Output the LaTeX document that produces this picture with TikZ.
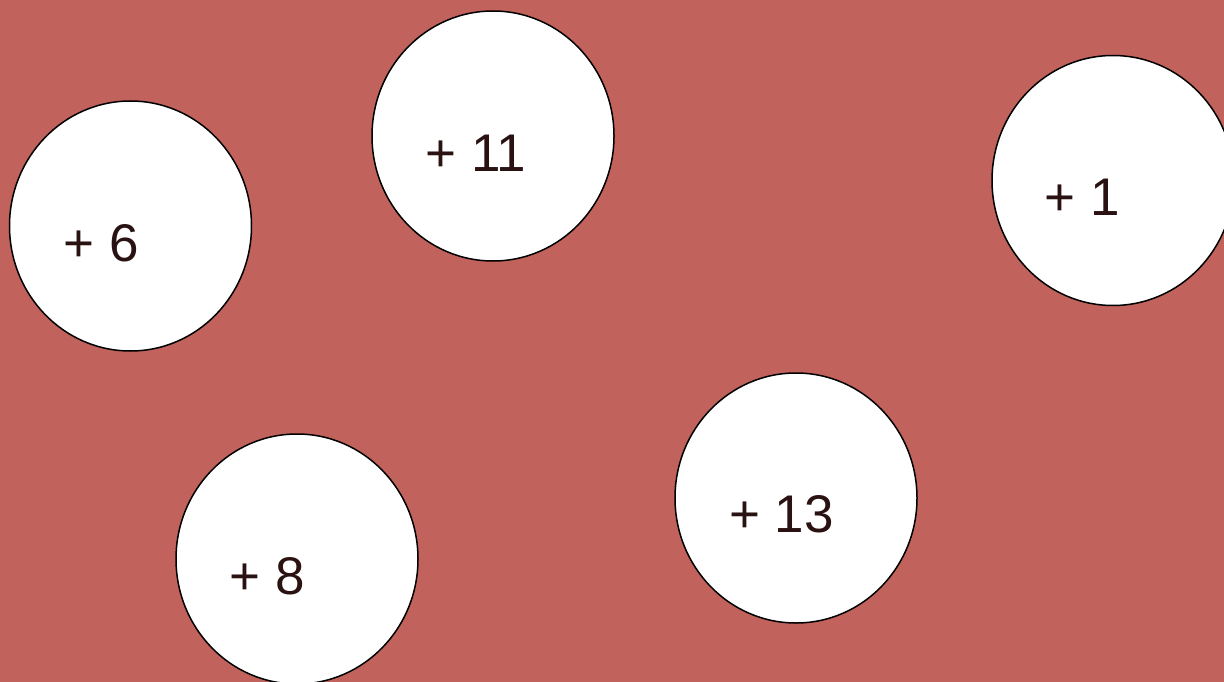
\documentclass[tikz,border=0pt]{standalone}
\usepackage{fontspec}
\setmainfont{Liberation Sans}
\usetikzlibrary{shapes.geometric}
\definecolor{bgred}{HTML}{C1625C}
\definecolor{txtbrown}{HTML}{2B1212}
\tikzset{
  blob/.style={ellipse, draw=black, line width=1.5pt, fill=white, minimum width=242pt, minimum height=250pt, inner sep=0pt},
  num/.style={text=txtbrown, font=\fontsize{53}{53}\selectfont, inner sep=0pt, anchor=center}
}
\begin{document}
\begin{tikzpicture}[x=1pt,y=-1pt]
\useasboundingbox (0,0) rectangle (1224,682);
\clip (0,0) rectangle (1224,682);
\fill[bgred] (0,0) rectangle (1224,682);
\node[blob] (c1) at (130.5,226) {};
\node[blob] (c2) at (493,136) {};
\node[blob] (c3) at (1113,180.5) {};
\node[blob] (c4) at (297,559) {};
\node[blob] (c5) at (796,498) {};
\node[num] (t1) at (101.5,243) {+ 6};
\node[num] (t2) at (476,153) {+ 11};
\node[num] (t3) at (1082.5,197) {+ 1};
\node[num] (t4) at (267.5,576) {+ 8};
\node[num] (t5) at (781.5,514) {+ 13};
\end{tikzpicture}
\end{document}
